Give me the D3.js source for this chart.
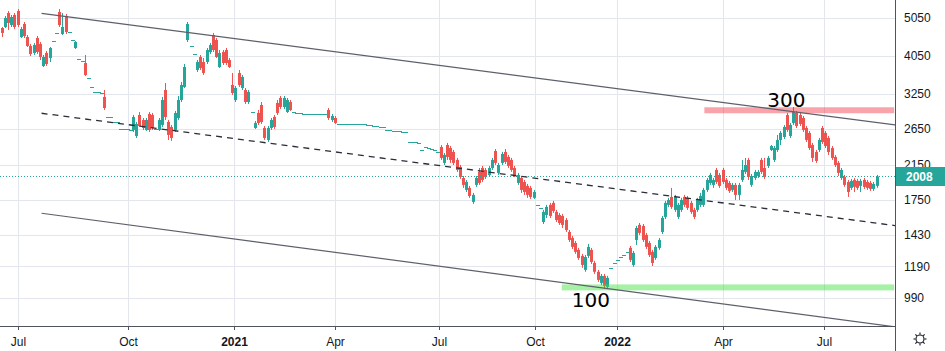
<!DOCTYPE html>
<html><head><meta charset="utf-8">
<script src="https://cdn.jsdelivr.net/npm/d3@7"></script>
<style>html,body{margin:0;padding:0;background:#fff;overflow:hidden}</style>
</head><body><svg id="c" width="945" height="351"></svg>
<script>
// ---- data (daily bars) ----
const opens=[4765,4793,5198,4849,5139,5259,4521,4877,4521,4291,
4120,4495,4341,3820,4120,4002,4417,4629,5229,4602,
5109,4656,4443,4241,3978,3932,3887,3562,3381,3284,
3284,3265,3190,2839,2839,2758,2758,2648,2648,2648,
2632,2632,2542,2872,2790,2632,2889,2872,2648,2632,
2710,3322,2758,2679,2632,2822,3134,3381,4443,4291,
4096,3732,4025,3909,3909,4144,4574,4443,3797,4144,
4192,3955,3420,3134,3668,3361,3322,3098,2923,2663,
2906,3044,2663,2484,2663,2839,3080,3171,3009,2923,
3098,2923,2906,2906,2889,2889,2889,2889,2889,2889,
2889,2889,2957,2790,2822,2726,2726,2726,2726,2726,
2726,2726,2726,2726,2710,2710,2694,2694,2679,2679,
2632,2632,2617,2617,2617,2602,2602,2455,2455,2455,
2441,2343,2384,2370,2356,2343,2316,2384,2173,2412,
2370,2316,2211,2122,1991,1857,1879,1732,1912,2062,
2110,2086,2026,2110,2329,2050,2173,2316,2250,2211,
2110,1934,1991,1945,1901,1879,1773,1702,1673,1541,
1605,1702,1722,1634,1605,1596,1559,1454,1404,1364,
1310,1265,1166,1265,1310,1214,1153,1081,1126,1056,
1180,1214,1236,1257,1272,1295,1325,1200,1388,1515,
1506,1429,1364,1295,1250,1325,1454,1587,1702,1783,
1653,1587,1653,1783,1773,1722,1653,1653,1702,1702,
1857,1934,1912,2086,2026,2086,1968,1934,1857,1912,
1804,1968,2062,2211,1912,1991,2014,2211,2110,2135,
2343,2211,2343,2484,2527,2872,2542,2742,2906,2872,
2822,2663,2587,2412,2316,2343,2663,2587,2513,2370,
2250,2173,1991,2003,1945,1879,1968,1957,1901,1968,
1945,1934,1868,1901];
const highs=[4793,5109,5259,5139,5198,5321,4793,4934,4574,4341,
4366,4548,4392,4072,4168,4266,4417,4629,5321,5198,
5169,4656,4443,4417,3978,3932,4072,3562,3381,3284,
3284,3265,3322,2839,2839,2758,2758,2648,2648,2648,
2632,2872,2758,2923,2822,2822,2923,2906,2648,2822,
3190,3460,2790,2710,2940,3208,3480,3864,4934,4291,
4096,3955,4072,4002,4241,4366,4629,4495,4192,4192,
4241,4002,3668,3400,3732,3625,3361,3322,2923,2774,
2957,3098,2694,2694,2822,2872,3134,3208,3208,3171,
3134,2923,2906,2906,2889,2889,2889,2889,2889,2889,
2889,2889,2991,2889,2855,2726,2726,2726,2726,2726,
2726,2726,2726,2726,2710,2710,2694,2694,2679,2679,
2632,2632,2617,2617,2617,2602,2602,2455,2455,2455,
2441,2343,2384,2370,2356,2343,2316,2412,2302,2441,
2398,2343,2237,2147,2014,1968,1901,1825,2014,2110,
2135,2110,2135,2237,2356,2173,2316,2356,2276,2237,
2135,2050,2014,1968,1923,1901,1857,1702,1673,1653,
1702,1722,1742,1653,1624,1615,1577,1471,1421,1380,
1325,1280,1272,1356,1325,1229,1166,1139,1139,1126,
1180,1214,1236,1257,1272,1295,1340,1302,1506,1532,
1523,1446,1380,1310,1348,1404,1596,1742,1773,1879,
1804,1722,1773,1804,1793,1742,1673,1773,1825,1879,
1991,2050,1991,2110,2050,2110,1991,1957,1934,1934,
1934,2211,2237,2237,2038,2086,2086,2237,2237,2263,
2412,2398,2557,2617,2710,2906,2742,3009,2940,2906,
2855,2694,2617,2441,2343,2513,2694,2617,2542,2398,
2276,2198,2110,2026,1968,1980,1991,1980,1980,1991,
1968,1957,1945,2026];
const lows=[4521,4765,4710,4793,4737,4793,4495,4495,4266,4048,
4072,4096,3955,3797,3820,3909,4417,4629,4793,4574,
4602,4656,4443,4217,3978,3932,3604,3562,3381,3284,
3284,3265,2957,2839,2839,2758,2758,2648,2648,2648,
2632,2602,2513,2679,2632,2617,2602,2632,2648,2617,
2679,2790,2484,2470,2602,2790,3098,3361,4392,4291,
4096,3689,3732,3625,3864,4096,4144,4002,3775,3842,
3842,3775,3227,3098,3381,3322,3062,3062,2923,2648,
2710,2726,2484,2455,2632,2648,2872,2974,2974,2906,
2940,2923,2906,2906,2889,2889,2889,2889,2889,2889,
2889,2889,2790,2758,2726,2726,2726,2726,2726,2726,
2726,2726,2726,2726,2710,2710,2694,2694,2679,2679,
2632,2632,2617,2617,2617,2602,2602,2455,2455,2455,
2441,2343,2384,2370,2356,2343,2316,2211,2147,2211,
2173,2147,2062,1980,1879,1835,1773,1712,1890,1912,
1945,1980,2003,2086,2147,2026,2147,2160,2110,2062,
2003,1912,1825,1804,1773,1762,1762,1702,1673,1523,
1577,1577,1624,1541,1515,1488,1454,1372,1317,1280,
1236,1180,1153,1250,1207,1139,1087,1068,1044,1044,
1180,1214,1236,1257,1272,1295,1221,1187,1348,1429,
1372,1317,1257,1193,1236,1310,1437,1568,1682,1663,
1634,1568,1634,1682,1653,1615,1568,1634,1682,1682,
1835,1912,1879,1923,1879,1923,1857,1825,1835,1752,
1752,1945,2038,1968,1890,1968,1991,2038,1980,2110,
2329,2185,2316,2412,2498,2602,2513,2710,2663,2694,
2602,2455,2343,2185,2173,2316,2427,2370,2276,2211,
2122,2014,1968,1890,1783,1857,1835,1857,1835,1868,
1857,1846,1846,1879];
const closes=[4629,5050,4906,5079,4793,4849,4737,4548,4291,4096,
4316,4144,4025,4025,3864,4241,4417,4629,4849,4793,
4656,4656,4443,4392,3978,3932,3625,3562,3381,3284,
3284,3265,2991,2839,2839,2758,2758,2648,2648,2648,
2632,2839,2726,2694,2663,2790,2632,2663,2648,2790,
3134,2839,2557,2513,2906,3134,3420,3797,4877,4291,
4096,3909,3775,3668,4192,4316,4192,4025,4120,3887,
3887,3797,3265,3361,3420,3583,3098,3284,2923,2742,
2742,2758,2513,2663,2790,2679,2906,3009,3171,3134,
2957,2923,2906,2906,2889,2889,2889,2889,2889,2889,
2889,2889,2822,2855,2742,2726,2726,2726,2726,2726,
2726,2726,2726,2726,2710,2710,2694,2694,2679,2679,
2632,2632,2617,2617,2617,2602,2602,2455,2455,2455,
2441,2343,2384,2370,2356,2343,2316,2237,2276,2250,
2211,2173,2086,2003,1912,1945,1793,1804,1991,1934,
1968,2003,2110,2211,2173,2147,2289,2185,2135,2086,
2026,2026,1857,1835,1804,1783,1835,1702,1673,1634,
1682,1596,1643,1559,1532,1515,1471,1388,1333,1295,
1250,1200,1257,1333,1221,1153,1100,1126,1062,1113,
1180,1214,1236,1257,1272,1295,1236,1287,1488,1446,
1388,1333,1272,1214,1333,1388,1577,1722,1752,1682,
1783,1702,1752,1702,1673,1634,1587,1752,1793,1857,
1968,2026,1968,1945,1901,1945,1879,1846,1912,1804,
1912,2086,2147,2003,2014,2062,2062,2062,2003,2237,
2398,2370,2484,2587,2679,2632,2710,2923,2694,2726,
2632,2484,2370,2237,2198,2484,2455,2398,2316,2237,
2147,2050,2086,1912,1835,1957,1890,1879,1957,1890,
1879,1868,1923,2008];

const priceTicks=[5050,4050,3250,2650,2150,1750,1430,1190,990];
const timeLabels=["Jul","Oct","2021","Apr","Jul","Oct","2022","Apr","Jul"];
const timeTickBars=[5.2,39.6,72.6,104.2,136.6,166.6,192.0,225.0,256.7];
const lastPrice=2008;

// drawings: [bar, price]
const upperLine=[[12.5,5189],[278.8,2710]];
const lowerLine=[[12.5,1621],[278.8,837]];
const midLine=[[12.5,2901],[278.8,1509]];
const resistanceZone={from:219.3,to:278.5,price:2952};
const supportZone={from:174.8,to:278.5,price:1053};
const notes=[{text:"300",bar:244.9,price:3009},{text:"100",bar:183.9,price:940}];

// ---- layout ----
const W=945,H=351,plotR=895,plotB=326;
const svg=d3.select("#c");
const x=d3.scaleLinear().domain([0,closes.length-1]).range([1.5,876.5]);
const y=d3.scaleLog().domain([990,5050]).range([298,18]);
const FONT="'Liberation Sans', Arial, sans-serif";
const TXT="#131722", UP="#26a69a", DN="#ef5350", GRID="#e3e6ec", AX="#50535e";

svg.append("rect").attr("width",W).attr("height",H).attr("fill","#fff");
svg.append("defs").append("clipPath").attr("id","pc").append("rect")
  .attr("x",0).attr("y",0).attr("width",plotR).attr("height",plotB);

// grid
const grid=svg.append("g");
priceTicks.forEach(t=>{const yy=Math.round(y(t))+0.5;
  grid.append("line").attr("x1",0).attr("x2",plotR).attr("y1",yy).attr("y2",yy).attr("stroke",GRID);});
timeTickBars.forEach(b=>{const xx=Math.round(x(b))+0.5;
  grid.append("line").attr("x1",xx).attr("x2",xx).attr("y1",0).attr("y2",plotB).attr("stroke",GRID);});

const plot=svg.append("g").attr("clip-path","url(#pc)");

// candles
const bars=d3.range(closes.length).map(i=>({i,o:opens[i],h:highs[i],l:lows[i],c:closes[i]}));
const cg=plot.append("g");
bars.forEach(d=>{
  const cx=Math.round(x(d.i));
  const col=d.c>=d.o?UP:DN;
  if(d.o===d.c && d.h===d.l){
    cg.append("rect").attr("x",cx-1).attr("y",Math.round(y(d.c))).attr("width",4).attr("height",1).attr("fill",col);
    return;
  }
  const yh=y(d.h), yl=y(d.l);
  cg.append("rect").attr("x",cx).attr("y",yh).attr("width",1).attr("height",Math.max(1,yl-yh)).attr("fill",col);
  const yt=y(Math.max(d.o,d.c)), yb=y(Math.min(d.o,d.c));
  cg.append("rect").attr("x",cx-1).attr("y",yt).attr("width",3).attr("height",Math.max(1,yb-yt)).attr("fill",col);
});

// last price line
const yLast=Math.round(y(lastPrice))+0.5;
plot.append("line").attr("x1",0).attr("x2",plotR).attr("y1",yLast).attr("y2",yLast)
  .attr("stroke",UP).attr("stroke-dasharray","1,2");

// zones
[[resistanceZone,"rgba(242,54,69,0.45)"],[supportZone,"rgba(60,225,60,0.45)"]].forEach(([z,c])=>{
  const yy=y(z.price);
  plot.append("rect").attr("x",x(z.from)).attr("y",yy-3).attr("width",x(z.to)-x(z.from)).attr("height",6).attr("fill",c);
});

// trend lines
[[upperLine,null],[lowerLine,null],[midLine,"6,5"]].forEach(([p,dash])=>{
  const l=plot.append("line").attr("x1",x(p[0][0])).attr("y1",y(p[0][1]))
    .attr("x2",x(p[1][0])).attr("y2",y(p[1][1]))
    .attr("stroke",dash?"#2a2e39":"#5d606b").attr("stroke-width",dash?1.3:1.2);
  if(dash) l.attr("stroke-dasharray",dash);
});

// notes
notes.forEach(n=>{
  svg.append("text").attr("x",x(n.bar)).attr("y",y(n.price)).attr("text-anchor","middle")
    .attr("font-family","'DejaVu Sans', sans-serif").attr("font-size",20).attr("fill","#000").text(n.text);
});

// axes
svg.append("line").attr("x1",plotR+0.5).attr("x2",plotR+0.5).attr("y1",0).attr("y2",H).attr("stroke",AX);
svg.append("line").attr("x1",0).attr("x2",plotR).attr("y1",plotB+0.5).attr("y2",plotB+0.5).attr("stroke",AX);

priceTicks.forEach(t=>{
  svg.append("text").attr("x",904).attr("y",y(t)+4.2).attr("font-family",FONT).attr("font-size",12)
    .attr("fill",TXT).text(d3.format("d")(t));
});
timeTickBars.forEach((b,k)=>{
  const xx=Math.round(x(b))+0.5;
  svg.append("line").attr("x1",xx).attr("x2",xx).attr("y1",plotB).attr("y2",plotB+4).attr("stroke",AX);
  const lab=timeLabels[k];
  svg.append("text").attr("x",xx).attr("y",345.5).attr("text-anchor","middle").attr("font-family",FONT)
    .attr("font-size",12).attr("font-weight",/^\d{4}$/.test(lab)?"bold":"normal").attr("fill",TXT).text(lab);
});

// last price badge
svg.append("rect").attr("x",plotR+1).attr("y",yLast-9.5).attr("width",W-plotR-1).attr("height",19).attr("fill",UP);
svg.append("text").attr("x",906).attr("y",yLast+4.3).attr("font-family",FONT).attr("font-size",12)
  .attr("font-weight","bold").attr("fill","#fff").text(lastPrice);

// settings icon
const gx=920,gy=339,gi=svg.append("g").attr("stroke",TXT).attr("fill","none").attr("stroke-width",1.1);
gi.append("circle").attr("cx",gx).attr("cy",gy).attr("r",4);
d3.range(8).forEach(k=>{const a=k*Math.PI/4;
  gi.append("line").attr("x1",gx+Math.cos(a)*4.5).attr("y1",gy+Math.sin(a)*4.5)
    .attr("x2",gx+Math.cos(a)*6.5).attr("y2",gy+Math.sin(a)*6.5);});
</script></body></html>
